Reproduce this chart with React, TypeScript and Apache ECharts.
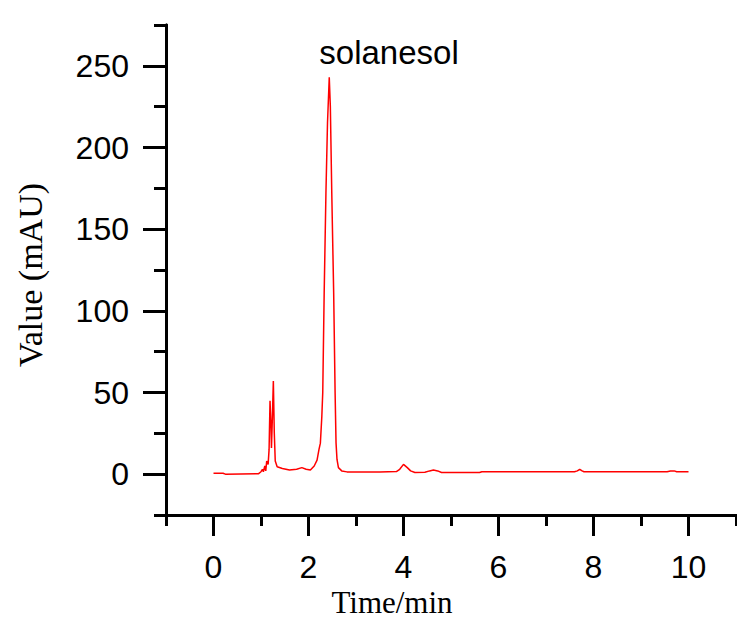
import React, { useEffect, useRef } from "react";
import * as echarts from "echarts";

const times: number[] = [
  0, 0.2, 0.25, 0.95, 1.0, 1.03, 1.05, 1.08, 1.1, 1.12, 1.15, 1.17, 1.19, 1.21, 1.22, 1.24, 1.26, 1.28,
  1.3, 1.34, 1.45, 1.6, 1.75, 1.86, 1.95, 2.04, 2.12, 2.18, 2.22, 2.25, 2.28, 2.3, 2.33, 2.367, 2.4,
  2.437, 2.46, 2.49, 2.53, 2.56, 2.58, 2.6, 2.63, 2.7, 2.81, 3.5, 3.85, 3.92, 4.0, 4.08, 4.15, 4.24,
  4.45, 4.55, 4.63, 4.72, 4.8, 5.6, 5.65, 7.6, 7.66, 7.71, 7.76, 7.8, 9.55, 9.62, 9.7, 9.75, 10.0,
];
const values: number[] = [
  0.6, 0.6, 0.0, 0.3, 1.5, 3, 1.5, 5, 2, 8, 6, 15, 45, 30, 16, 35, 57, 25,
  8, 4.5, 3.5, 2.5, 3, 4, 3, 2.5, 5, 8.6, 15, 19, 35, 50, 111, 172, 215,
  243, 225, 172, 111, 50, 19, 9, 4, 2, 1.4, 1.4, 1.6, 3, 6, 4, 2, 1,
  1.2, 2, 2.5, 2, 1.0, 1.0, 1.5, 1.5, 2, 3, 2, 1.5, 1.5, 2, 2, 1.5, 1.5,
];

const xMajorTicks: number[] = [0, 2, 4, 6, 8, 10];
const xMinorTicks: number[] = [-1, 1, 3, 5, 7, 9, 11];
const yMajorTicks: number[] = [0, 50, 100, 150, 200, 250];
const yMinorTicks: number[] = [-25, 25, 75, 125, 175, 225, 275];

const xLabel = "Time/min";
const yLabel = "Value (mAU)";
const peakLabel = "solanesol";

export default function App() {
  const ref = useRef<HTMLDivElement>(null);
  useEffect(() => {
    if (!ref.current) return;
    const chart = echarts.init(ref.current, undefined, { renderer: "svg" });
    const sans = "'Liberation Sans', Arial, sans-serif";
    const serif = "'Liberation Serif', 'Times New Roman', serif";
    const axisLine = { show: true, onZero: false, lineStyle: { color: "#000", width: 3 } };
    const data = times.map((t, i) => [t, values[i]]);
    chart.setOption({
      animation: false,
      backgroundColor: "#fff",
      grid: { left: 166, right: 1, top: 25, bottom: 106, containLabel: false },
      xAxis: [
        {
          type: "value",
          position: "bottom",
          min: -1,
          max: 11,
          axisLine,
          axisTick: {
            show: true,
            inside: false,
            length: 21,
            customValues: xMajorTicks,
            lineStyle: { color: "#000", width: 3 },
          },
          axisLabel: {
            customValues: xMajorTicks,
            margin: 36,
            color: "#000",
            fontSize: 32,
            fontFamily: sans,
          },
          splitLine: { show: false },
        },
        {
          type: "value",
          position: "bottom",
          offset: 0,
          min: -1,
          max: 11,
          axisLine,
          axisTick: {
            show: true,
            inside: false,
            length: 11,
            customValues: xMinorTicks,
            lineStyle: { color: "#000", width: 3 },
          },
          axisLabel: { show: false },
          splitLine: { show: false },
        },
      ],
      yAxis: [
        {
          type: "value",
          position: "left",
          min: -25,
          max: 275,
          axisLine,
          axisTick: {
            show: true,
            inside: false,
            length: 23,
            customValues: yMajorTicks,
            lineStyle: { color: "#000", width: 3 },
          },
          axisLabel: {
            customValues: yMajorTicks,
            margin: 37,
            color: "#000",
            fontSize: 32,
            fontFamily: sans,
          },
          splitLine: { show: false },
        },
        {
          type: "value",
          position: "left",
          offset: 0,
          min: -25,
          max: 275,
          axisLine,
          axisTick: {
            show: true,
            inside: false,
            length: 12,
            customValues: yMinorTicks,
            lineStyle: { color: "#000", width: 3 },
          },
          axisLabel: { show: false },
          splitLine: { show: false },
        },
      ],
      series: [
        {
          type: "line",
          xAxisIndex: 0,
          yAxisIndex: 0,
          data,
          showSymbol: false,
          symbol: "none",
          lineStyle: { color: "#ff0000", width: 1.5 },
        },
      ],
      graphic: [
        {
          type: "text",
          x: 389,
          y: 52,
          style: {
            text: peakLabel,
            font: `33px ${sans}`,
            fill: "#000",
            textAlign: "center",
            textVerticalAlign: "middle",
          },
        },
        {
          type: "text",
          x: 392,
          y: 602,
          style: {
            text: xLabel,
            font: `31px ${serif}`,
            fill: "#000",
            textAlign: "center",
            textVerticalAlign: "middle",
          },
        },
        {
          type: "text",
          x: 30,
          y: 275,
          rotation: Math.PI / 2,
          style: {
            text: yLabel,
            font: `34px ${serif}`,
            fill: "#000",
            textAlign: "center",
            textVerticalAlign: "middle",
          },
        },
      ],
    });
    return () => chart.dispose();
  }, []);
  return (
    <div
      ref={ref}
      style={{ position: "fixed", left: 0, top: 0, width: 737, height: 621, background: "#fff" }}
    />
  );
}
